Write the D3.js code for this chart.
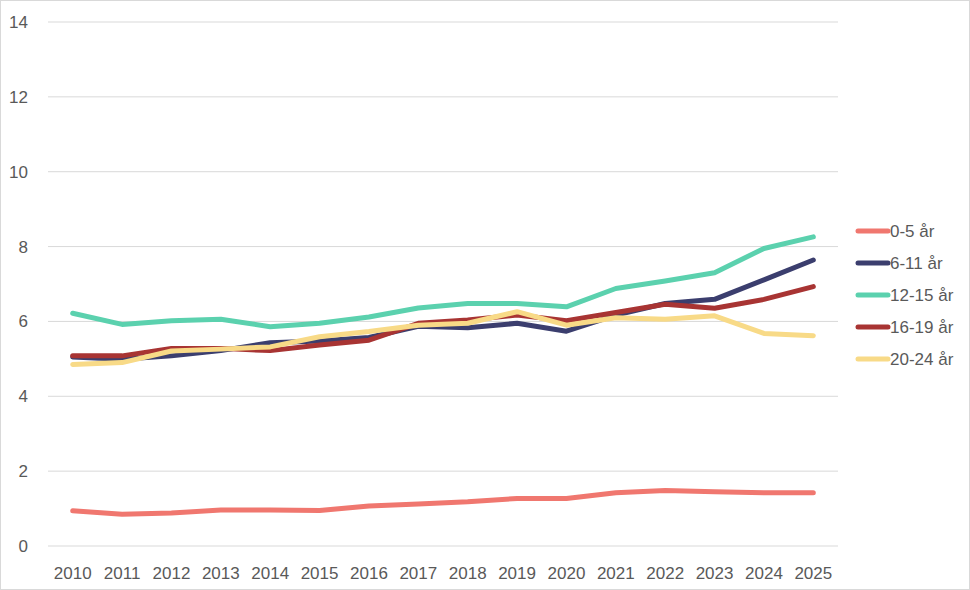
<!DOCTYPE html>
<html>
<head>
<meta charset="utf-8">
<script src="https://cdn.jsdelivr.net/npm/d3@7"></script>
<style>
  body { margin: 0; background: #fff; }
  text { font-family: "Liberation Sans", Arial, sans-serif; fill: #595959; }
</style>
</head>
<body>
<div id="chart"></div>
<script>
var years = ["2010","2011","2012","2013","2014","2015","2016","2017","2018","2019","2020","2021","2022","2023","2024","2025"]
var yTicks = [0, 2, 4, 6, 8, 10, 12, 14]

var names = ["0-5 år", "6-11 år", "12-15 år", "16-19 år", "20-24 år"]
var colors = ["#f0776f", "#3b3e6e", "#5bd1ae", "#a83433", "#f8da87"]

var age0to5   = [0.94, 0.85, 0.88, 0.96, 0.96, 0.95, 1.07, 1.12, 1.18, 1.27, 1.27, 1.42, 1.48, 1.45, 1.42, 1.42]
var age6to11  = [5.05, 4.99, 5.08, 5.22, 5.43, 5.48, 5.57, 5.87, 5.83, 5.95, 5.74, 6.17, 6.48, 6.59, 7.11, 7.64]
var age12to15 = [6.22, 5.92, 6.02, 6.06, 5.86, 5.95, 6.12, 6.36, 6.48, 6.48, 6.39, 6.88, 7.08, 7.30, 7.95, 8.26]
var age16to19 = [5.08, 5.08, 5.28, 5.28, 5.22, 5.37, 5.50, 5.95, 6.04, 6.17, 6.02, 6.24, 6.46, 6.35, 6.59, 6.93]
var age20to24 = [4.85, 4.90, 5.21, 5.26, 5.32, 5.59, 5.73, 5.90, 5.95, 6.26, 5.90, 6.10, 6.06, 6.15, 5.68, 5.62]

var series = [age0to5, age6to11, age12to15, age16to19, age20to24].map(function(vals, i) {
  return {name: names[i], color: colors[i], values: vals.map(function(v, j) { return {year: years[j], value: v} })}
})

var w = 970, h = 590

var svg = d3.select('#chart').append('svg')
    .attr('width', w)
    .attr('height', h)

svg.append('rect')
    .attr('x', 0.5).attr('y', 0.5)
    .attr('width', w - 1).attr('height', h - 1)
    .attr('fill', '#fff')
    .attr('stroke', '#d9d9d9')

var x = d3.scalePoint().domain(years).range([48, 838]).padding(0.5)
var y = d3.scaleLinear().domain([0, 14]).range([546, 22])

// gridlines
svg.append('g').selectAll('line')
  .data(yTicks)
  .enter().append('line')
    .attr('x1', 48).attr('x2', 838)
    .attr('y1', function(d) { return y(d) })
    .attr('y2', function(d) { return y(d) })
    .attr('stroke', '#d9d9d9')
    .attr('stroke-width', 1)

// y labels
svg.append('g').selectAll('text')
  .data(yTicks)
  .enter().append('text')
    .attr('x', 28)
    .attr('y', function(d) { return y(d) })
    .attr('dy', '0.35em')
    .attr('text-anchor', 'end')
    .style('font-size', '17px')
    .text(function(d) { return d })

// x labels
svg.append('g').selectAll('text')
  .data(years)
  .enter().append('text')
    .attr('x', function(d) { return x(d) })
    .attr('y', 573)
    .attr('dy', '0.35em')
    .attr('text-anchor', 'middle')
    .style('font-size', '17px')
    .text(function(d) { return d })

var line = d3.line()
    .x(function(d) { return x(d.year) })
    .y(function(d) { return y(d.value) })

svg.append('g').selectAll('path')
  .data(series)
  .enter().append('path')
    .attr('d', function(d) { return line(d.values) })
    .attr('fill', 'none')
    .attr('stroke', function(d) { return d.color })
    .attr('stroke-width', 5)
    .attr('stroke-linecap', 'round')
    .attr('stroke-linejoin', 'round')

// legend
var legend = svg.append('g').selectAll('g')
  .data(series)
  .enter().append('g')
    .attr('transform', function(d, i) { return 'translate(858,' + (231 + i * 32) + ')' })

legend.append('line')
    .attr('x1', 0).attr('x2', 30)
    .attr('stroke', function(d) { return d.color })
    .attr('stroke-width', 5)
    .attr('stroke-linecap', 'round')

legend.append('text')
    .attr('x', 32)
    .attr('dy', '0.35em')
    .style('font-size', '17px')
    .text(function(d) { return d.name })
</script>
</body>
</html>
